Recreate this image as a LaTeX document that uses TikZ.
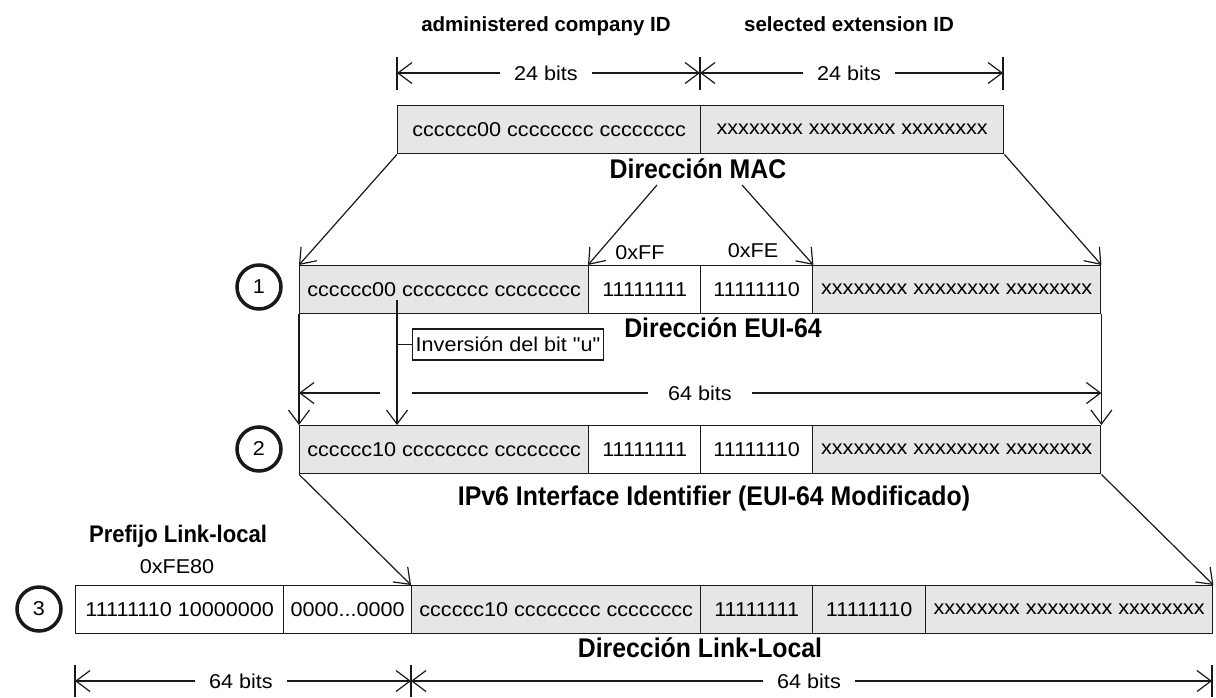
\documentclass[tikz,border=0pt]{standalone}
\usepackage{fontspec}
\setmainfont{Liberation Sans}
\newfontfamily\cellfamily[FakeStretch=1.08]{Liberation Sans}
\newfontfamily\ttlfamily[FakeStretch=0.92]{Liberation Sans}
\usetikzlibrary{arrows.meta}
\definecolor{cellgray}{RGB}{230,230,230}
\definecolor{ink}{RGB}{25,25,25}
\newcommand\cellsz{\cellfamily\fontsize{20}{24}\selectfont}
\newcommand\ttlsz{\ttlfamily\fontsize{27}{31}\selectfont\bfseries}
\newcommand\hdrsz{\fontsize{20.5}{24}\selectfont\bfseries}
\begin{document}
\begin{tikzpicture}[x=1pt,y=-1pt,
  cell/.style={draw=ink,line width=1.4pt,minimum height=48pt,inner sep=0pt,anchor=north west,font=\cellsz},
  gcell/.style={cell,fill=cellgray},
  wcell/.style={cell,fill=white},
  arr/.style={ink,line width=1.2pt,-{Straight Barb[length=14pt,width=21pt,line width=1.2pt]}},
  dim/.style={ink,line width=1.2pt},
  lbl/.style={font=\cellsz,inner sep=0pt},
  dimlbl/.style={font=\cellsz,inner ysep=0pt,inner xsep=14pt},
  ttl/.style={font=\ttlsz,anchor=base,inner sep=0pt},
  hdr/.style={font=\hdrsz,anchor=base,inner sep=0pt},
  circ/.style={circle,draw=ink,line width=3.5pt,minimum size=44pt,inner sep=0pt,font=\cellsz}]
\useasboundingbox[fill=white] (0,0) rectangle (1216,697);

% headers
\node[hdr] (h1) at (546,31) {administered company ID};
\node[hdr] (h2) at (849,31) {selected extension ID};

% top dimension
\coordinate (ta) at (397,73);
\coordinate (tb) at (700,73);
\coordinate (tc) at (1003,73);
\draw[dim] ([yshift=16pt]ta) -- ([yshift=-17pt]ta);
\draw[dim] ([yshift=16pt]tb) -- ([yshift=-17pt]tb);
\draw[dim] ([yshift=16pt]tc) -- ([yshift=-17pt]tc);
\node[dimlbl] (d1) at (546,73) {24 bits};
\node[dimlbl] (d2) at (849,73) {24 bits};
\draw[arr] (d1.west) -- (ta);
\draw[arr] (d1.east) -- (tb);
\draw[arr] (d2.west) -- (tb);
\draw[arr] (d2.east) -- (tc);

% MAC
\node[gcell,minimum width=303pt] (m1) at (397,105) {cccccc00 cccccccc cccccccc};
\node[gcell,minimum width=303pt] (m2) at (700,105) {xxxxxxxx xxxxxxxx xxxxxxxx};
\node[ttl] (tmac) at (698,178) {Dirección MAC};

% EUI-64
\node[gcell,minimum width=289pt] (e1) at (299,265) {cccccc00 cccccccc cccccccc};
\node[wcell,minimum width=112pt] (e2) at (588,265) {11111111};
\node[wcell,minimum width=112pt] (e3) at (700,265) {11111110};
\node[gcell,minimum width=288pt] (e4) at (812,265) {xxxxxxxx xxxxxxxx xxxxxxxx};
\node[ttl] (teui) at (723,337) {Dirección EUI-64};
\node[circ] (c1) at (259,287) {1};

\draw[arr] (m1.south west) -- (e1.north west);
\draw[arr] (m2.south east) -- (e4.north east);
\coordinate (ffs) at (657,185);
\coordinate (fes) at (742,185);
\draw[arr] (ffs) -- (e2.north west);
\draw[arr] (fes) -- (e3.north east);
\node[lbl] (ff) at (640,253) {0xFF};
\node[lbl] (fe) at (753,251) {0xFE};

% IPv6
\node[gcell,minimum width=289pt] (i1) at (299,425) {cccccc10 cccccccc cccccccc};
\node[wcell,minimum width=112pt] (i2) at (588,425) {11111111};
\node[wcell,minimum width=112pt] (i3) at (700,425) {11111110};
\node[gcell,minimum width=288pt] (i4) at (812,425) {xxxxxxxx xxxxxxxx xxxxxxxx};
\node[ttl] (tipv) at (714,505) {IPv6 Interface Identifier (EUI-64 Modificado)};
\node[circ] (c2) at (259,449) {2};

\draw[arr] (e1.south west) -- (i1.north west);
\draw[arr] (e4.south east) -- (i4.north east);
\coordinate (invtop) at (397,300);
\coordinate (invbot) at (397,425);
\draw[arr] (invtop) -- (invbot);
\node[draw=ink,line width=1.4pt,font=\cellsz,anchor=west,inner xsep=3pt,inner ysep=0pt,minimum height=31pt] (inv) at (412,344.5) {Inversión del bit "u"};
\draw[dim] (invtop |- inv.west) -- (inv.west);

% middle dimension
\node[dimlbl,inner xsep=20pt] (d3) at (700,393) {64 bits};
\coordinate (gl) at (380,393);
\coordinate (gr) at (412,393);
\draw[dim] (d3.west) -- (gr);
\draw[arr] (gl) -- (e1.south west |- d3);
\draw[arr] (d3.east) -- (e4.south east |- d3);

% Link-local
\node[wcell,minimum width=208pt] (l1) at (75,585) {11111110 10000000};
\node[wcell,minimum width=128pt] (l2) at (283,585) {0000...0000};
\node[gcell,minimum width=289pt] (l3) at (411,585) {cccccc10 cccccccc cccccccc};
\node[gcell,minimum width=112pt] (l4) at (700,585) {11111111};
\node[gcell,minimum width=113pt] (l5) at (812,585) {11111110};
\node[gcell,minimum width=287pt] (l6) at (925,585) {xxxxxxxx xxxxxxxx xxxxxxxx};
\node[ttl] (tll) at (700,657) {Dirección Link-Local};
\node[circ] (c3) at (39,609) {3};
\node[ttl,font=\ttlfamily\fontsize{24}{28}\selectfont\bfseries] (tpre) at (178,542) {Prefijo Link-local};
\node[lbl,anchor=base] (fe80) at (177,573) {0xFE80};

\draw[arr] (i1.south west) -- (l3.north west);
\draw[arr] (i4.south east) -- (l6.north east);

% bottom dimension
\coordinate (ba) at (75,681);
\coordinate (bb) at (411,681);
\coordinate (bc) at (1212,681);
\draw[dim] ([yshift=16pt]ba) -- ([yshift=-16pt]ba);
\draw[dim] ([yshift=16pt]bb) -- ([yshift=-16pt]bb);
\draw[dim] ([yshift=16pt]bc) -- ([yshift=-16pt]bc);
\node[dimlbl] (d4) at (241,681) {64 bits};
\node[dimlbl] (d5) at (809,681) {64 bits};
\draw[arr] (d4.west) -- (ba);
\draw[arr] (d4.east) -- (bb);
\draw[arr] (d5.west) -- (bb);
\draw[arr] (d5.east) -- (bc);
\end{tikzpicture}
\end{document}
